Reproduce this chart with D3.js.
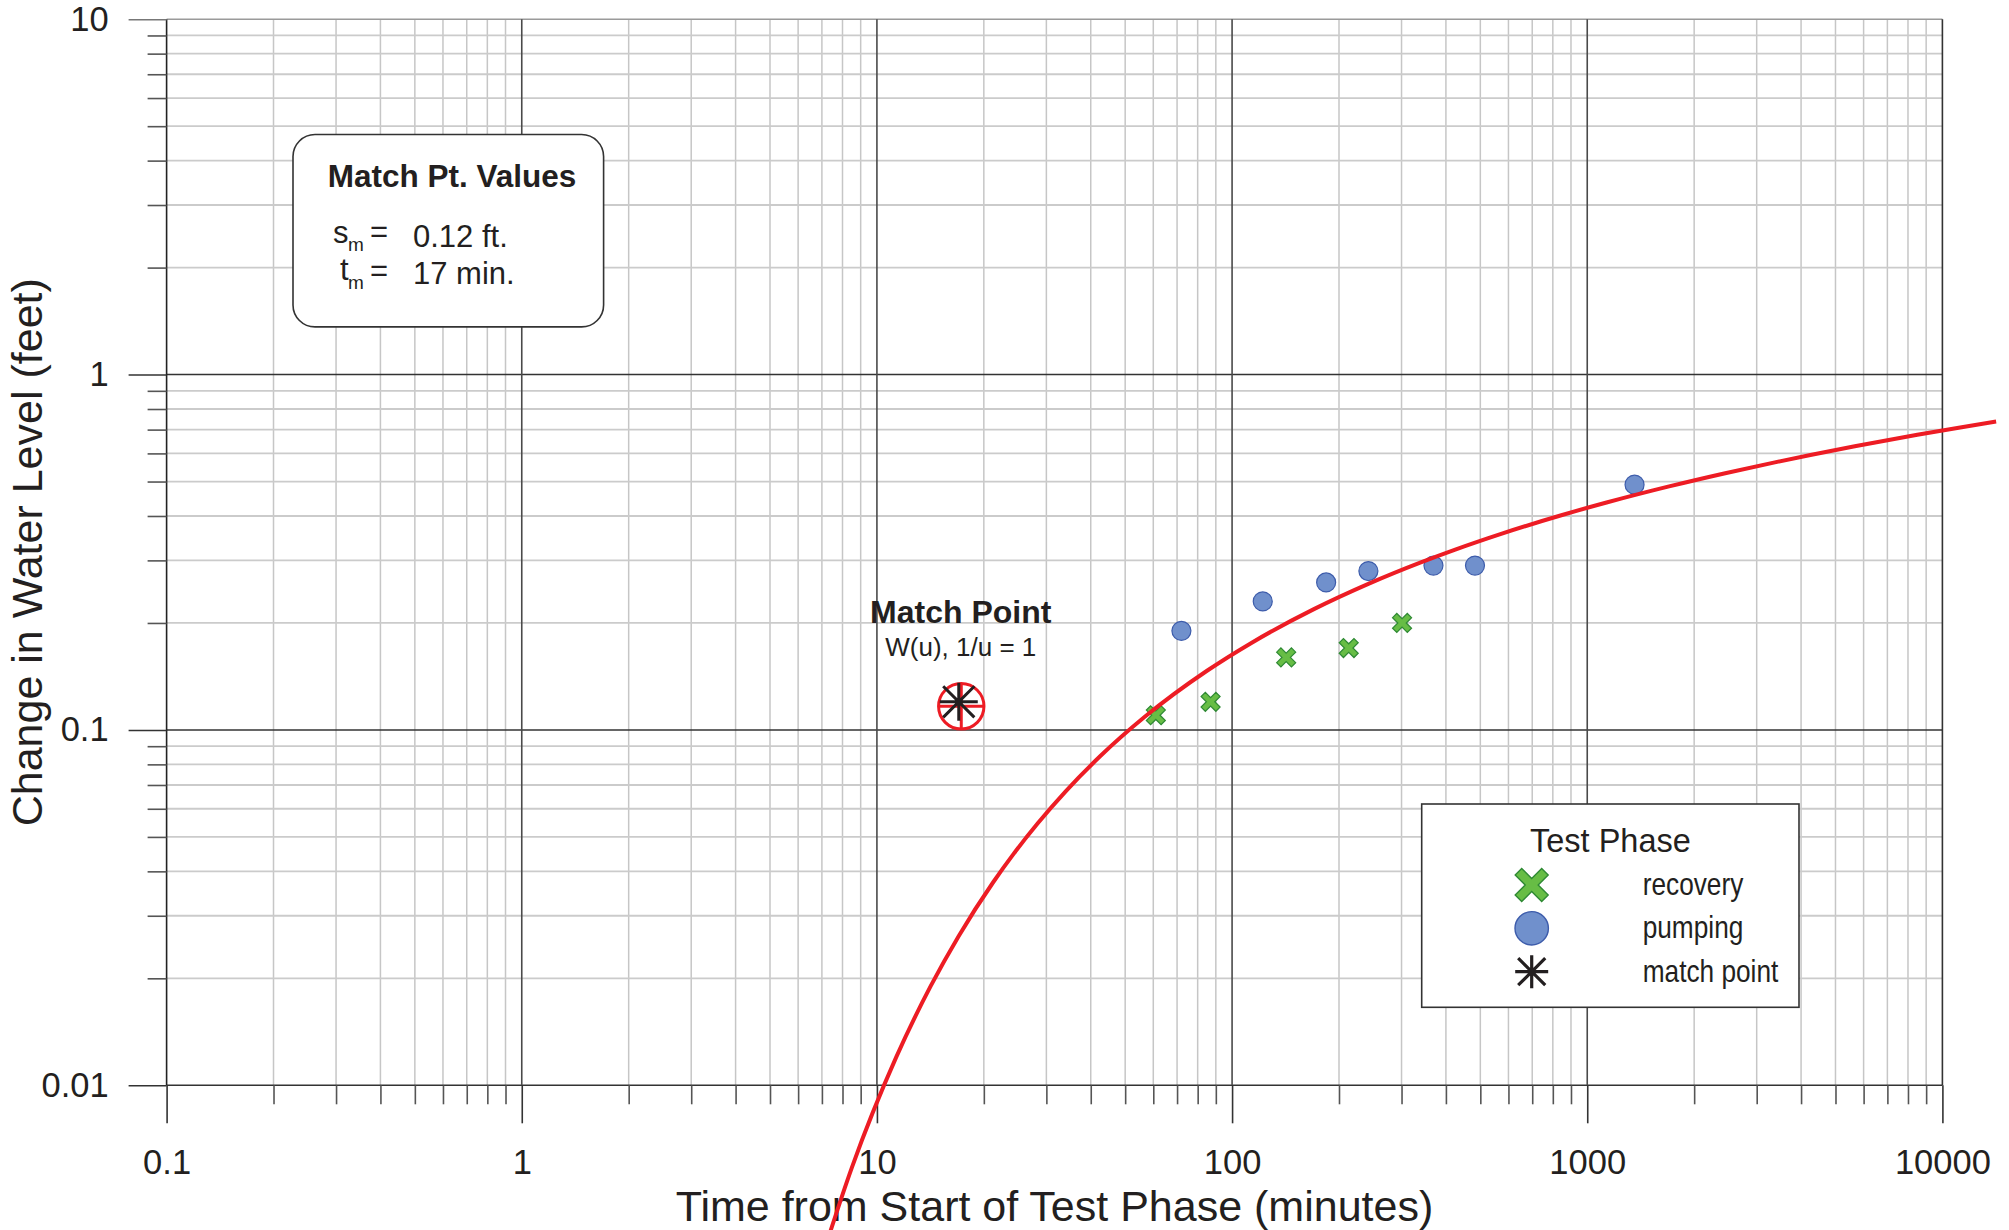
<!DOCTYPE html>
<html>
<head>
<meta charset="utf-8">
<script src="https://cdn.jsdelivr.net/npm/d3@7"></script>
<style>
  html, body { margin: 0; padding: 0; background: #ffffff; }
  svg { display: block; }
</style>
</head>
<body>
<svg id="chart" width="2009" height="1230"></svg>
<script>
// ---- data -------------------------------------------------------------
// recovery-phase observations (time in minutes, change in water level in feet)
const recoveryTime = [61, 87, 142, 213, 301];
const recoveryLevel = [0.11, 0.12, 0.16, 0.17, 0.20];

// pumping-phase observations
const pumpingTime = [72, 122, 184, 242, 369, 483, 1359];
const pumpingLevel = [0.19, 0.23, 0.26, 0.28, 0.29, 0.29, 0.49];

// match point of the type curve: W(u) = 1 and 1/u = 1
const matchTime = 17;      // t_m, minutes
const matchLevel = 0.12;   // s_m, feet

// Theis well function table, W(u) for tabulated u
const wellU = [0.0012, 0.0015, 0.002, 0.003, 0.004, 0.005, 0.007, 0.01, 0.015, 0.02,
               0.03, 0.04, 0.05, 0.07, 0.1, 0.15, 0.2, 0.3, 0.4, 0.5,
               0.6, 0.7, 0.8, 1.0, 1.2, 1.5, 2.0, 2.5];
const wellW = [6.149, 5.9266, 5.6394, 5.2349, 4.9482, 4.7261, 4.3916, 4.0379, 3.6374, 3.3547,
               2.9591, 2.6813, 2.4679, 2.1508, 1.8229, 1.4645, 1.2227, 0.9057, 0.7024, 0.5598,
               0.4544, 0.3738, 0.3106, 0.2194, 0.1584, 0.1000, 0.0489, 0.0249];

// axis tick values and labels
const xMajorTicks = [0.1, 1, 10, 100, 1000, 10000];
const xTickLabels = ["0.1", "1", "10", "100", "1000", "10000"];
const yMajorTicks = [0.01, 0.1, 1, 10];
const yTickLabels = ["0.01", "0.1", "1", "10"];

// legend entries
const legendLabels = ["recovery", "pumping", "match point"];

// ---- layout -----------------------------------------------------------
const FONT = "'Liberation Sans', Arial, Helvetica, sans-serif";
const plotL = 166.6, plotR = 1942.4, plotT = 19.2, plotB = 1085.3;
const majorLen = 38, minorLen = 19;

const svg = d3.select("#chart");

const x = d3.scaleLog().domain([0.1, 10000]).range([plotL, plotR]);
const y = d3.scaleLog().domain([0.01, 10]).range([plotB, plotT]);

const isMajor = v => Math.abs(Math.log10(v) - Math.round(Math.log10(v))) < 1e-9;
const xMinorTicks = x.ticks().filter(v => !isMajor(v));
const yMinorTicks = y.ticks().filter(v => !isMajor(v));

// ---- grid -------------------------------------------------------------
const grid = svg.append("g");

grid.append("g").selectAll("line").data(xMinorTicks).join("line")
  .attr("x1", d => x(d)).attr("x2", d => x(d))
  .attr("y1", plotT).attr("y2", plotB)
  .attr("stroke", "#c6c6c6").attr("stroke-width", 1.5);

grid.append("g").selectAll("line").data(yMinorTicks).join("line")
  .attr("x1", plotL).attr("x2", plotR)
  .attr("y1", d => y(d)).attr("y2", d => y(d))
  .attr("stroke", "#cbcbcb").attr("stroke-width", 1.8);

grid.append("g").selectAll("line").data(yMajorTicks).join("line")
  .attr("x1", plotL).attr("x2", plotR)
  .attr("y1", d => y(d)).attr("y2", d => y(d))
  .attr("stroke", d => d === 10 ? "#9a9a9a" : "#333333").attr("stroke-width", 1.6);

grid.append("g").selectAll("line").data(xMajorTicks).join("line")
  .attr("x1", d => x(d)).attr("x2", d => x(d))
  .attr("y1", plotT).attr("y2", plotB)
  .attr("stroke", d => (d === 0.1 ? "#222222" : d === 10000 ? "#333333" : "#4a4a4a"))
  .attr("stroke-width", 1.6);

// ---- axes -------------------------------------------------------------
function styleAxis(g, color) {
  g.select(".domain").remove();
  g.selectAll(".tick line").attr("stroke", color).attr("stroke-width", 1.6);
  g.attr("font-family", FONT).attr("font-size", 34.5);
  g.selectAll(".tick text").attr("fill", "#231f20");
}

svg.append("g").attr("transform", `translate(0,${plotB})`)
  .call(d3.axisBottom(x).tickValues(xMinorTicks).tickSize(minorLen).tickFormat(""))
  .call(g => styleAxis(g, "#555555"));

svg.append("g").attr("transform", `translate(0,${plotB})`)
  .call(d3.axisBottom(x).tickValues(xMajorTicks).tickSize(majorLen).tickPadding(26)
    .tickFormat((d, i) => xTickLabels[i]))
  .call(g => styleAxis(g, "#333333"));

svg.append("g").attr("transform", `translate(${plotL},0)`)
  .call(d3.axisLeft(y).tickValues(yMinorTicks).tickSize(minorLen).tickFormat(""))
  .call(g => styleAxis(g, "#555555"));

svg.append("g").attr("transform", `translate(${plotL},0)`)
  .call(d3.axisLeft(y).tickValues(yMajorTicks).tickSize(majorLen).tickPadding(20)
    .tickFormat((d, i) => yTickLabels[i]))
  .call(g => styleAxis(g, "#333333"))
  .call(g => g.selectAll(".tick line").attr("stroke", d => d === 10 ? "#777777" : "#333333"));

// axis titles
svg.append("text")
  .attr("x", (plotL + plotR) / 2).attr("y", 1221)
  .attr("text-anchor", "middle")
  .attr("font-family", FONT).attr("font-size", 43).attr("fill", "#231f20")
  .text("Time from Start of Test Phase (minutes)");

svg.append("text")
  .attr("transform", `translate(42,${(plotT + plotB) / 2}) rotate(-90)`)
  .attr("text-anchor", "middle")
  .attr("font-family", FONT).attr("font-size", 43).attr("fill", "#231f20")
  .text("Change in Water Level (feet)");

// ---- match point values box -------------------------------------------
const box = svg.append("g");
box.append("rect")
  .attr("x", 293).attr("y", 134.5).attr("width", 310.6).attr("height", 192.4)
  .attr("rx", 22).attr("ry", 22)
  .attr("fill", "#ffffff").attr("stroke", "#333333").attr("stroke-width", 1.6);

box.append("text")
  .attr("x", 452).attr("y", 187).attr("text-anchor", "middle")
  .attr("font-family", FONT).attr("font-size", 31.5).attr("font-weight", "bold")
  .attr("fill", "#231f20")
  .text("Match Pt. Values");

const boxRows = [
  { sym: "s", symX: 333, symY: 243, subY: 251, eqY: 242, valY: 247, val: `${matchLevel} ft.` },
  { sym: "t", symX: 340, symY: 280, subY: 289, eqY: 281, valY: 284, val: `${matchTime} min.` }
];
boxRows.forEach(r => {
  const t = box.append("g").attr("font-family", FONT).attr("fill", "#231f20");
  t.append("text").attr("x", r.symX).attr("y", r.symY).attr("font-size", 31).text(r.sym);
  t.append("text").attr("x", 348).attr("y", r.subY).attr("font-size", 19).text("m");
  t.append("text").attr("x", 370).attr("y", r.eqY).attr("font-size", 31).text("=");
  t.append("text").attr("x", 413).attr("y", r.valY).attr("font-size", 31).text(r.val);
});

// ---- marker shapes ------------------------------------------------------
// filled X: half-extent h, arm half-thickness w
function xShape(h, w) {
  const q = Math.SQRT2 * w, k = h - q;
  const pts = [[q,0],[h,k],[k,h],[0,q],[-k,h],[-h,k],[-q,0],[-h,-k],[-k,-h],[0,-q],[k,-h],[h,-k]];
  return "M" + pts.map(p => p.join(",")).join("L") + "Z";
}
// eight-spoke asterisk of half-size a
function asteriskShape(a) {
  const p = d3.path(), d = a * 0.82;
  p.moveTo(-a, 0); p.lineTo(a, 0);
  p.moveTo(0, -a); p.lineTo(0, a);
  p.moveTo(-d, -d); p.lineTo(d, d);
  p.moveTo(-d, d); p.lineTo(d, -d);
  return p.toString();
}

// ---- match point marker ------------------------------------------------
const mx = x(matchTime), my = y(matchLevel);
const ring = svg.append("g").attr("transform", `translate(${mx + 2.5},${my + 4.5})`);
const ringR = 22.7;
ring.append("circle").attr("r", ringR)
  .attr("fill", "none").attr("stroke", "#ed1c24").attr("stroke-width", 3);
ring.append("line").attr("x1", -ringR).attr("x2", ringR)
  .attr("stroke", "#ed1c24").attr("stroke-width", 3);
ring.append("line").attr("y1", -ringR).attr("y2", ringR)
  .attr("stroke", "#ed1c24").attr("stroke-width", 3);

svg.append("path")
  .attr("transform", `translate(${mx},${my})`)
  .attr("d", asteriskShape(19))
  .attr("fill", "none").attr("stroke", "#231f20").attr("stroke-width", 3);

svg.append("text")
  .attr("x", mx + 2).attr("y", my - 79).attr("text-anchor", "middle")
  .attr("font-family", FONT).attr("font-size", 32).attr("font-weight", "bold")
  .attr("fill", "#231f20")
  .text("Match Point");
svg.append("text")
  .attr("x", mx + 2).attr("y", my - 46).attr("text-anchor", "middle")
  .attr("font-family", FONT).attr("font-size", 26).attr("fill", "#231f20")
  .text("W(u), 1/u = 1");

// ---- observations -------------------------------------------------------
const pumping = pumpingTime.map((t, i) => ({ t, s: pumpingLevel[i] }));
const recovery = recoveryTime.map((t, i) => ({ t, s: recoveryLevel[i] }));

svg.append("g").selectAll("circle").data(pumping).join("circle")
  .attr("cx", d => x(d.t)).attr("cy", d => y(d.s)).attr("r", 9.5)
  .attr("fill", "#7090cc").attr("stroke", "#3d5cab").attr("stroke-width", 1.2);

svg.append("g").selectAll("path").data(recovery).join("path")
  .attr("transform", d => `translate(${x(d.t)},${y(d.s)})`)
  .attr("d", xShape(9.5, 3))
  .attr("fill", "#67bd45").attr("stroke", "#2f8a34").attr("stroke-width", 1.2);

// ---- Theis type curve through the match point --------------------------
const curve = wellU.map((u, i) => ({ t: matchTime / u, s: matchLevel * wellW[i] }))
  .sort((a, b) => a.t - b.t);

svg.append("path")
  .datum(curve)
  .attr("d", d3.line().x(d => x(d.t)).y(d => y(d.s)).curve(d3.curveMonotoneX))
  .attr("fill", "none").attr("stroke", "#ed1c24").attr("stroke-width", 4);

// ---- legend -------------------------------------------------------------
const lg = svg.append("g");
lg.append("rect")
  .attr("x", 1421.7).attr("y", 804).attr("width", 377.3).attr("height", 203.3)
  .attr("fill", "#ffffff").attr("stroke", "#333333").attr("stroke-width", 1.6);
lg.append("text")
  .attr("x", 1610.4).attr("y", 851.7).attr("text-anchor", "middle")
  .attr("font-family", FONT).attr("font-size", 32.5).attr("fill", "#231f20")
  .text("Test Phase");

const rowY = [885, 928.3, 971.7];
const symX = 1531.7;
lg.append("path").attr("transform", `translate(${symX},${rowY[0]})`)
  .attr("d", xShape(16.5, 4.6))
  .attr("fill", "#67bd45").attr("stroke", "#2f8a34").attr("stroke-width", 1.4);
lg.append("circle").attr("cx", symX).attr("cy", rowY[1]).attr("r", 16.7)
  .attr("fill", "#7090cc").attr("stroke", "#3d5cab").attr("stroke-width", 1.4);
lg.append("path").attr("transform", `translate(${symX},${rowY[2]})`)
  .attr("d", asteriskShape(16.5))
  .attr("fill", "none").attr("stroke", "#231f20").attr("stroke-width", 3.2);

lg.selectAll("text.lab").data(legendLabels).join("text")
  .attr("class", "lab")
  .attr("transform", (d, i) => `translate(1642.7,${rowY[i] + 10}) scale(0.82,1)`)
  .attr("font-family", FONT).attr("font-size", 32).attr("fill", "#231f20")
  .text(d => d);
</script>
</body>
</html>
